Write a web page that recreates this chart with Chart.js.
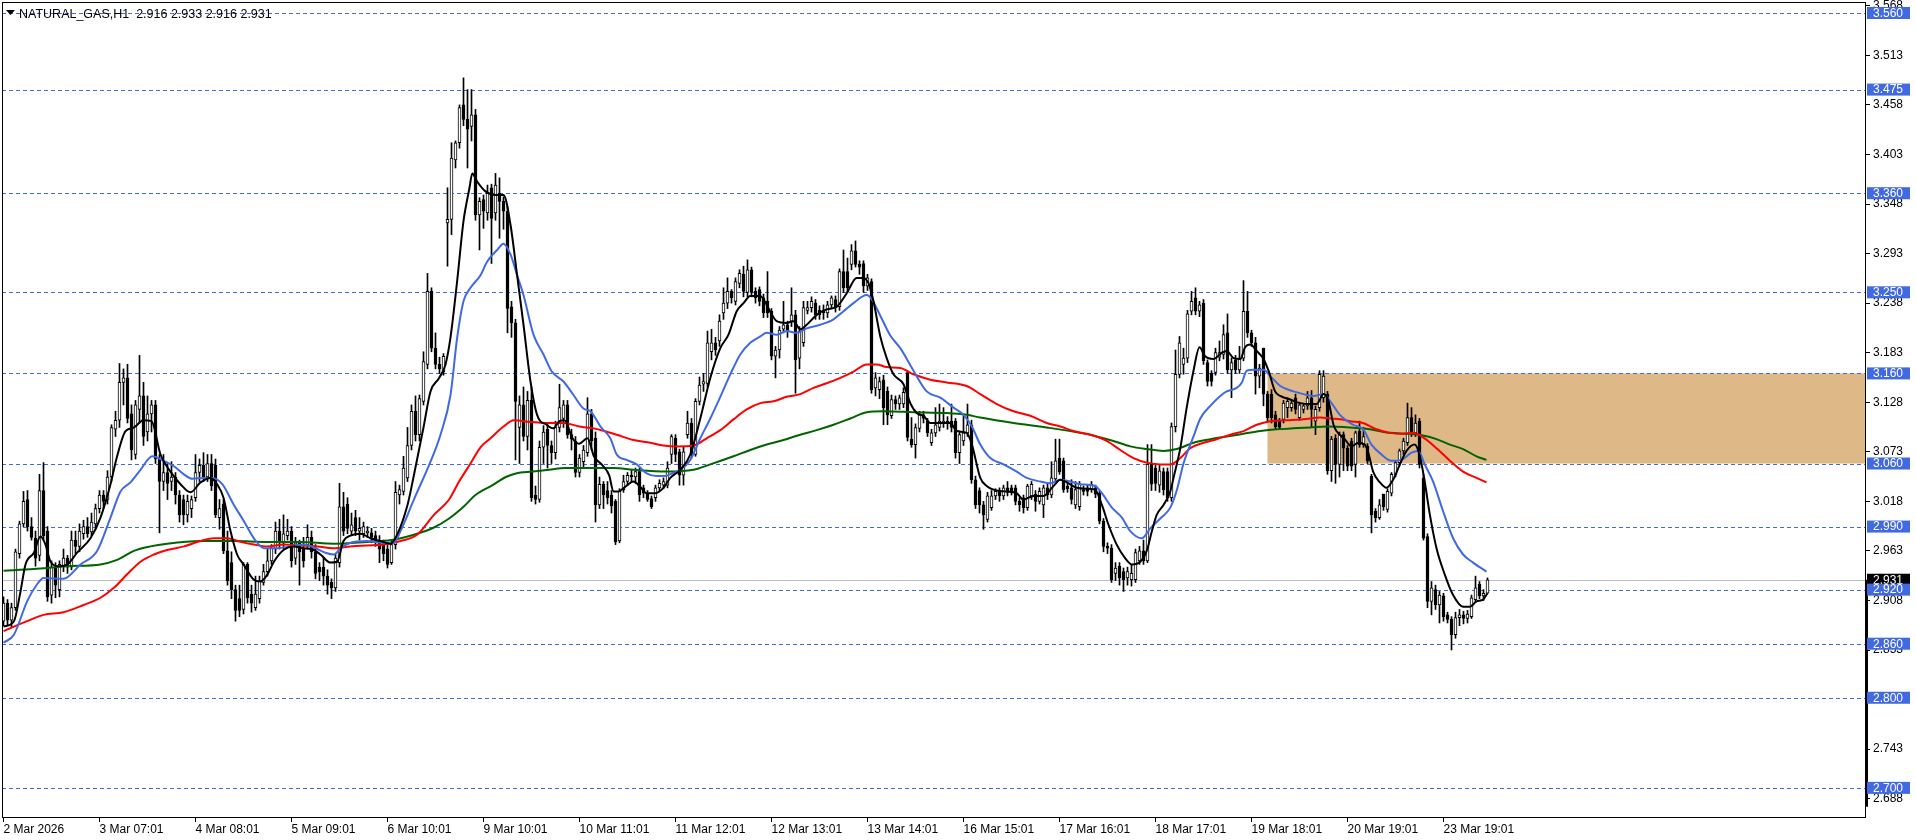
<!DOCTYPE html>
<html>
<head>
<meta charset="utf-8">
<title>NATURAL_GAS,H1</title>
<script src="https://cdn.jsdelivr.net/npm/chart.js@4.4.1/dist/chart.umd.min.js"></script>
<style>
  html, body { margin: 0; padding: 0; background: #fff; overflow: hidden; }
  canvas { display: block; }
</style>
</head>
<body>
<canvas id="priceChart" width="1916" height="840"></canvas>
<script>
// chart header and axis texts
var chartTitle = 'NATURAL_GAS,H1  2.916 2.933 2.916 2.931';
var timeLabels = ['2 Mar 2026', '3 Mar 07:01', '4 Mar 08:01', '5 Mar 09:01', '6 Mar 10:01', '9 Mar 10:01',
  '10 Mar 11:01', '11 Mar 12:01', '12 Mar 13:01', '13 Mar 14:01', '16 Mar 15:01', '17 Mar 16:01',
  '18 Mar 17:01', '19 Mar 18:01', '20 Mar 19:01', '23 Mar 19:01'];
var timeTickBars = [0, 24, 48, 72, 96, 120, 144, 168, 192, 216, 240, 264, 288, 312, 336, 360];
var priceTicks = [3.568, 3.513, 3.458, 3.403, 3.348, 3.293, 3.238, 3.183, 3.128, 3.073, 3.018,
  2.963, 2.908, 2.853, 2.798, 2.743, 2.688];

// horizontal levels, last price and the supply zone
var levels = [3.560, 3.475, 3.360, 3.250, 3.160, 3.060, 2.990, 2.920, 2.860, 2.800, 2.700];
var lastPrice = 2.931;
var zoneStartBar = 316;
var zoneTop = 3.160;
var zoneBottom = 3.060;

// hourly candles, bar 0 = 2 Mar 2026
var opens = [
  2.885,2.905,2.886,2.900,2.960,2.993,3.020,2.990,2.977,2.958,3.030,2.985,
  2.914,2.945,2.920,2.946,2.955,2.945,2.975,2.968,2.982,2.990,2.984,2.993,
  3.010,3.025,3.020,3.045,3.098,3.108,3.150,3.155,3.115,3.070,3.120,3.135,
  3.095,3.115,3.125,3.065,3.040,3.050,3.040,3.045,3.025,3.020,3.003,3.010,
  3.022,3.050,3.058,3.045,3.060,3.058,3.000,3.015,2.963,2.950,2.920,2.910,
  2.898,2.948,2.915,2.900,2.910,2.928,2.940,2.952,2.965,2.985,2.972,2.980,
  2.985,2.955,2.972,2.965,2.970,2.978,2.962,2.945,2.945,2.935,2.928,2.922,
  2.950,3.012,3.015,2.985,3.000,2.985,2.982,2.983,2.983,2.980,2.975,2.970,
  2.965,2.950,2.970,3.025,3.029,3.044,3.080,3.118,3.092,3.129,3.170,3.251,
  3.188,3.170,3.162,3.327,3.331,3.397,3.416,3.458,3.442,3.434,3.447,3.336,
  3.353,3.338,3.366,3.338,3.360,3.351,3.340,3.234,3.216,3.100,3.125,3.090,
  3.130,3.025,3.020,3.078,3.098,3.080,3.072,3.100,3.110,3.125,3.092,3.085,
  3.050,3.062,3.072,3.115,3.088,3.014,3.037,3.030,3.025,3.018,2.974,3.031,
  3.040,3.047,3.045,3.051,3.033,3.027,3.021,3.022,3.033,3.036,3.036,3.070,
  3.088,3.073,3.047,3.092,3.105,3.070,3.129,3.148,3.149,3.184,3.194,3.196,
  3.227,3.238,3.251,3.240,3.260,3.270,3.250,3.275,3.251,3.253,3.244,3.240,
  3.229,3.179,3.186,3.209,3.214,3.218,3.225,3.177,3.194,3.230,3.233,3.238,
  3.230,3.230,3.227,3.236,3.242,3.234,3.273,3.273,3.281,3.296,3.281,3.282,
  3.257,3.262,3.144,3.142,3.153,3.140,3.113,3.131,3.126,3.126,3.161,3.087,
  3.081,3.099,3.114,3.107,3.083,3.094,3.100,3.105,3.107,3.107,3.107,3.072,
  3.085,3.094,3.103,3.042,3.030,3.014,2.998,3.011,3.024,3.029,3.024,3.033,
  3.033,3.033,3.018,3.022,3.011,3.024,3.026,3.018,3.014,3.033,3.025,3.043,
  3.066,3.063,3.035,3.033,3.014,3.012,3.031,3.033,3.031,3.033,3.027,2.996,
  2.968,2.966,2.938,2.946,2.940,2.933,2.931,2.931,2.952,2.963,2.952,3.059,
  3.055,3.036,3.051,3.051,3.022,3.101,3.159,3.170,3.177,3.229,3.244,3.229,
  3.238,3.172,3.160,3.161,3.178,3.181,3.205,3.164,3.175,3.164,3.177,3.229,
  3.205,3.194,3.157,3.188,3.137,3.137,3.114,3.107,3.109,3.122,3.122,3.133,
  3.111,3.120,3.124,3.133,3.107,3.122,3.133,3.137,3.052,3.088,3.059,3.092,
  3.077,3.085,3.059,3.096,3.081,3.079,3.046,3.007,3.000,3.026,3.009,3.027,
  3.048,3.061,3.074,3.083,3.111,3.094,3.107,3.044,2.979,2.907,2.920,2.903,
  2.913,2.892,2.887,2.870,2.889,2.892,2.888,2.890,2.909,2.926,2.913,2.916
];
var highs = [
  2.912,2.909,2.905,2.965,2.996,3.029,3.030,3.000,2.985,3.048,3.061,2.990,
  2.952,2.950,2.952,2.965,2.958,2.985,2.985,2.993,2.997,3.000,3.005,3.015,
  3.030,3.030,3.052,3.103,3.118,3.171,3.165,3.170,3.125,3.130,3.180,3.150,
  3.135,3.130,3.130,3.070,3.070,3.060,3.062,3.050,3.030,3.025,3.025,3.024,
  3.070,3.065,3.072,3.070,3.070,3.065,3.020,3.020,2.985,2.962,2.925,2.925,
  2.950,2.950,2.925,2.935,2.935,2.948,2.965,2.970,2.995,2.998,3.003,2.998,
  2.990,2.978,2.975,2.978,2.992,2.985,2.970,2.950,2.955,2.942,2.932,2.960,
  3.038,3.028,3.022,3.005,3.008,3.000,2.995,2.990,2.988,2.985,2.980,2.975,
  2.970,2.975,3.040,3.036,3.068,3.100,3.125,3.135,3.136,3.184,3.271,3.255,
  3.205,3.178,3.182,3.366,3.416,3.418,3.458,3.488,3.475,3.475,3.453,3.355,
  3.358,3.369,3.370,3.382,3.377,3.356,3.345,3.240,3.220,3.135,3.145,3.140,
  3.145,3.035,3.085,3.102,3.105,3.085,3.107,3.148,3.130,3.130,3.098,3.090,
  3.070,3.080,3.133,3.120,3.095,3.045,3.040,3.040,3.030,3.020,3.032,3.047,
  3.050,3.053,3.055,3.055,3.036,3.030,3.024,3.036,3.042,3.044,3.062,3.092,
  3.092,3.076,3.078,3.118,3.110,3.132,3.156,3.160,3.207,3.209,3.200,3.225,
  3.255,3.266,3.253,3.266,3.275,3.279,3.286,3.278,3.255,3.256,3.248,3.273,
  3.232,3.190,3.212,3.240,3.218,3.255,3.230,3.212,3.240,3.240,3.245,3.242,
  3.235,3.236,3.240,3.246,3.246,3.276,3.297,3.288,3.303,3.307,3.285,3.285,
  3.270,3.265,3.161,3.156,3.158,3.145,3.136,3.135,3.136,3.144,3.163,3.111,
  3.104,3.118,3.118,3.110,3.098,3.122,3.126,3.122,3.112,3.126,3.110,3.096,
  3.115,3.126,3.108,3.046,3.033,3.018,3.028,3.030,3.032,3.033,3.036,3.040,
  3.036,3.036,3.022,3.025,3.037,3.040,3.030,3.033,3.036,3.037,3.062,3.087,
  3.087,3.066,3.040,3.042,3.040,3.040,3.035,3.036,3.040,3.036,3.030,2.999,
  2.972,2.970,2.950,2.950,2.944,2.945,2.948,2.965,2.968,2.975,3.081,3.081,
  3.060,3.058,3.055,3.055,3.105,3.186,3.201,3.188,3.230,3.251,3.255,3.240,
  3.242,3.175,3.163,3.188,3.196,3.214,3.226,3.177,3.180,3.190,3.263,3.251,
  3.208,3.200,3.170,3.188,3.140,3.142,3.118,3.110,3.130,3.133,3.130,3.137,
  3.128,3.127,3.140,3.141,3.124,3.163,3.163,3.140,3.090,3.092,3.095,3.095,
  3.080,3.088,3.096,3.107,3.100,3.082,3.048,3.010,3.020,3.026,3.032,3.050,
  3.063,3.076,3.088,3.127,3.122,3.114,3.110,3.048,2.982,2.929,2.925,2.918,
  2.916,2.895,2.890,2.895,2.898,2.896,2.897,2.914,2.935,2.929,2.920,2.933
];
var lows = [
  2.880,2.880,2.878,2.897,2.955,2.990,2.985,2.975,2.946,2.952,2.975,2.907,
  2.905,2.911,2.912,2.940,2.938,2.942,2.960,2.962,2.976,2.978,2.980,2.988,
  3.005,3.010,3.015,3.040,3.090,3.100,3.125,3.105,3.064,3.065,3.105,3.080,
  3.085,3.095,3.060,2.983,3.030,3.020,3.030,3.015,2.995,2.992,2.995,3.000,
  3.018,3.040,3.040,3.040,3.030,3.000,2.987,2.960,2.925,2.910,2.885,2.890,
  2.893,2.905,2.895,2.897,2.905,2.925,2.935,2.948,2.960,2.965,2.965,2.975,
  2.945,2.948,2.925,2.945,2.965,2.955,2.932,2.930,2.925,2.915,2.910,2.918,
  2.945,2.980,2.982,2.980,2.980,2.975,2.978,2.978,2.972,2.968,2.950,2.952,
  2.944,2.948,2.965,3.015,3.025,3.040,3.075,3.085,3.085,3.125,3.165,3.184,
  3.165,3.160,3.158,3.279,3.314,3.388,3.410,3.435,3.388,3.418,3.330,3.297,
  3.321,3.330,3.282,3.330,3.310,3.320,3.205,3.200,3.064,3.060,3.085,3.075,
  3.018,3.015,3.017,3.060,3.055,3.060,3.065,3.095,3.100,3.088,3.075,3.045,
  3.045,3.055,3.068,3.075,2.995,3.010,3.010,3.015,3.005,2.970,2.972,3.028,
  3.036,3.040,3.038,3.018,3.022,3.018,3.010,3.018,3.030,3.032,3.033,3.060,
  3.062,3.036,3.036,3.088,3.066,3.068,3.125,3.140,3.145,3.175,3.180,3.190,
  3.220,3.232,3.238,3.236,3.255,3.245,3.245,3.245,3.238,3.235,3.222,3.222,
  3.175,3.155,3.177,3.205,3.200,3.212,3.138,3.165,3.190,3.226,3.228,3.220,
  3.220,3.220,3.222,3.232,3.228,3.230,3.250,3.250,3.275,3.278,3.270,3.250,
  3.252,3.138,3.135,3.132,3.103,3.103,3.110,3.120,3.120,3.122,3.085,3.078,
  3.066,3.095,3.105,3.090,3.080,3.090,3.096,3.100,3.098,3.095,3.066,3.060,
  3.080,3.090,3.038,3.010,3.005,2.987,2.995,3.008,3.020,3.018,3.020,3.024,
  3.025,3.014,3.007,3.005,3.008,3.020,3.007,3.015,3.000,3.020,3.022,3.040,
  3.048,3.028,3.028,3.015,3.010,3.008,3.025,3.024,3.028,3.022,2.993,2.962,
  2.960,2.928,2.930,2.925,2.918,2.925,2.924,2.928,2.948,2.948,2.950,3.030,
  3.030,3.028,3.025,3.018,3.018,3.095,3.155,3.159,3.172,3.225,3.225,3.223,
  3.170,3.146,3.146,3.158,3.174,3.176,3.160,3.133,3.160,3.160,3.174,3.200,
  3.190,3.137,3.144,3.124,3.106,3.105,3.098,3.098,3.105,3.111,3.118,3.115,
  3.108,3.116,3.120,3.100,3.092,3.118,3.128,3.048,3.040,3.038,3.045,3.052,
  3.052,3.052,3.045,3.078,3.078,3.060,2.983,2.995,2.998,3.008,3.006,3.024,
  3.045,3.058,3.070,3.080,3.090,3.090,3.055,2.975,2.900,2.892,2.898,2.883,
  2.885,2.883,2.853,2.866,2.880,2.882,2.883,2.888,2.906,2.910,2.908,2.916
];
var closes = [
  2.905,2.886,2.900,2.962,2.993,3.018,2.990,2.978,2.955,3.030,2.980,2.912,
  2.945,2.925,2.948,2.955,2.945,2.975,2.968,2.985,2.990,2.982,2.995,3.010,
  3.025,3.018,3.045,3.100,3.108,3.150,3.155,3.110,3.075,3.125,3.135,3.090,
  3.115,3.125,3.065,3.040,3.050,3.038,3.045,3.025,3.003,3.003,3.018,3.020,
  3.050,3.058,3.045,3.060,3.035,3.003,3.010,2.963,2.930,2.920,2.897,2.897,
  2.948,2.911,2.905,2.915,2.930,2.940,2.952,2.966,2.985,2.972,2.982,2.985,
  2.952,2.972,2.962,2.952,2.978,2.962,2.938,2.940,2.935,2.925,2.922,2.955,
  3.012,2.985,2.988,2.992,2.985,2.988,2.990,2.985,2.978,2.976,2.965,2.960,
  2.948,2.970,3.028,3.031,3.055,3.080,3.118,3.092,3.132,3.173,3.251,3.188,
  3.170,3.165,3.179,3.331,3.399,3.416,3.455,3.442,3.431,3.447,3.336,3.351,
  3.340,3.360,3.332,3.369,3.351,3.340,3.232,3.216,3.129,3.125,3.090,3.130,
  3.022,3.020,3.078,3.095,3.080,3.072,3.100,3.122,3.125,3.092,3.087,3.050,
  3.066,3.075,3.115,3.085,3.014,3.037,3.025,3.022,3.013,2.973,3.029,3.040,
  3.047,3.045,3.051,3.025,3.027,3.020,3.012,3.033,3.038,3.040,3.055,3.090,
  3.070,3.047,3.073,3.105,3.070,3.129,3.147,3.151,3.194,3.194,3.186,3.218,
  3.238,3.251,3.244,3.262,3.271,3.251,3.275,3.250,3.244,3.240,3.227,3.227,
  3.179,3.186,3.208,3.214,3.207,3.225,3.175,3.207,3.233,3.233,3.240,3.225,
  3.225,3.227,3.236,3.244,3.233,3.273,3.255,3.255,3.296,3.281,3.278,3.257,
  3.266,3.142,3.155,3.151,3.122,3.114,3.131,3.126,3.133,3.139,3.089,3.081,
  3.100,3.114,3.110,3.094,3.094,3.103,3.107,3.107,3.105,3.100,3.072,3.092,
  3.094,3.103,3.042,3.014,3.014,3.003,3.024,3.024,3.029,3.024,3.033,3.028,
  3.029,3.018,3.014,3.011,3.035,3.037,3.018,3.029,3.033,3.025,3.044,3.063,
  3.051,3.031,3.032,3.020,3.031,3.037,3.029,3.029,3.037,3.026,2.996,2.968,
  2.966,2.931,2.944,2.933,2.931,2.940,2.938,2.961,2.963,2.952,3.059,3.037,
  3.038,3.052,3.031,3.022,3.101,3.159,3.194,3.177,3.226,3.240,3.229,3.236,
  3.174,3.151,3.151,3.183,3.183,3.203,3.164,3.172,3.164,3.177,3.229,3.205,
  3.194,3.157,3.166,3.137,3.111,3.111,3.101,3.100,3.127,3.129,3.127,3.120,
  3.125,3.124,3.133,3.120,3.120,3.159,3.157,3.052,3.087,3.059,3.092,3.077,
  3.057,3.057,3.094,3.081,3.090,3.063,3.003,3.000,3.014,3.012,3.029,3.048,
  3.061,3.074,3.085,3.111,3.094,3.105,3.059,2.977,2.907,2.922,2.903,2.914,
  2.890,2.887,2.870,2.889,2.892,2.888,2.893,2.911,2.922,2.913,2.916,2.931
];

// moving averages as [bar, price]
var maFast = [[0,2.879],[2.6,2.885],[4.25,2.918],[5.5,2.948],[7.6,2.961],[9.25,2.979],[10.5,2.970],[11.75,2.951],
  [14,2.946],[16,2.948],[18.4,2.961],[21.75,2.977],[24.25,3.000],[26.75,3.037],[28.4,3.068],[30.5,3.096],[32.6,3.100],
  [35,3.108],[37,3.107],[39.25,3.070],[41.75,3.051],[44.25,3.037],[46.75,3.028],[49.25,3.039],[51.75,3.044],[53.4,3.037],
  [55,3.022],[56.75,2.985],[58.4,2.959],[60,2.948],[62.6,2.931],[64.25,2.929],[66,2.937],[67.6,2.951],[70,2.964],
  [72.6,2.968],[75,2.966],[77.6,2.964],[79.25,2.959],[81.75,2.950],[83.4,2.951],[85,2.974],[86.75,2.980],[89.25,2.982],
  [91.75,2.977],[94.25,2.974],[96.75,2.971],[98.4,2.981],[101,3.014],[102.6,3.047],[105,3.100],[106.75,3.140],
  [108.9,3.155],[110.5,3.170],[111.75,3.200],[113.4,3.262],[115,3.329],[116.5,3.366],[117.2,3.382],[118.4,3.373],
  [120.5,3.362],[123,3.358],[125,3.358],[126.75,3.325],[128.4,3.269],[130,3.214],[131.75,3.151],[133.4,3.114],
  [135.75,3.103],[137.4,3.099],[139,3.107],[140.25,3.108],[142.25,3.088],[143.9,3.082],[146,3.088],[147.6,3.068],
  [149.75,3.058],[151.4,3.047],[152.5,3.029],[153.75,3.029],[155.4,3.034],[157.5,3.040],[159.2,3.034],[160.8,3.027],
  [162.9,3.027],[165,3.033],[166.7,3.044],[169.2,3.053],[171.7,3.070],[174.2,3.110],[176.7,3.155],[179.2,3.188],
  [181.25,3.203],[183.3,3.229],[185,3.238],[186.7,3.246],[189.2,3.246],[190.8,3.236],[192.1,3.225],[193.3,3.218],
  [195.8,3.216],[197.5,3.218],[199.2,3.209],[200.8,3.214],[203.3,3.225],[205.8,3.231],[208.3,3.234],[210.8,3.249],
  [213.3,3.266],[215,3.266],[216.25,3.260],[217.5,3.240],[219.2,3.201],[220.8,3.177],[222.5,3.159],[225,3.148],
  [226.7,3.127],[228.3,3.116],[230,3.113],[231.7,3.105],[234.2,3.105],[236.7,3.105],[238.3,3.096],[240.8,3.094],
  [242.1,3.081],[244.2,3.044],[245.8,3.035],[248.3,3.030],[250.8,3.029],[253.3,3.027],[255,3.020],[257.5,3.024],
  [260,3.024],[262.5,3.035],[264.2,3.042],[265.8,3.039],[268.3,3.033],[270.8,3.032],[272.9,3.031],[274.6,3.014],
  [276.25,2.992],[278.3,2.970],[280.4,2.955],[282.1,2.948],[284.2,2.951],[285.8,2.963],[287.1,2.985],[288.3,3.003],
  [290,3.014],[291.7,3.029],[292.5,3.044],[294.2,3.077],[295.8,3.122],[297.5,3.163],[299,3.189],[300.4,3.179],
  [302.5,3.176],[304.6,3.183],[305.8,3.185],[307.5,3.177],[309.2,3.176],[310.4,3.189],[311.7,3.192],[313.3,3.185],
  [315,3.176],[316.25,3.163],[317.9,3.140],[319.2,3.135],[321.7,3.131],[324.2,3.127],[326.7,3.126],[328.3,3.126],
  [330,3.137],[331.25,3.129],[332.5,3.103],[333.25,3.096],[335.3,3.087],[337,3.079],[338.7,3.083],[340.3,3.081],
  [341.2,3.072],[342.4,3.051],[344.1,3.039],[345.75,3.033],[347.4,3.042],[349.1,3.059],[350.75,3.074],[352.8,3.081],
  [354.1,3.068],[355.3,3.040],[356.6,3.003],[358.25,2.966],[360.3,2.937],[362.4,2.914],[364.9,2.901],[366.6,2.901],
  [368.25,2.907],[369.9,2.909],[371,2.916]];
var maMid = [[0,2.861],[2.6,2.870],[5.9,2.907],[8.4,2.926],[10,2.933],[15,2.932],[19.25,2.948],[23.4,2.963],
  [26.75,3.000],[29.25,3.029],[31.75,3.039],[34.25,3.053],[37.2,3.068],[40.1,3.063],[42.6,3.057],[45.1,3.048],
  [47.2,3.043],[50.1,3.044],[52.2,3.044],[54.7,3.037],[57.6,3.014],[60.1,2.996],[62.6,2.977],[65.1,2.966],[68.4,2.966],
  [71.75,2.968],[75.1,2.970],[78,2.966],[80.5,2.961],[82.6,2.959],[84.25,2.966],[86.75,2.972],[90.9,2.974],
  [95.1,2.972],[97.6,2.972],[99.25,2.985],[102.6,3.020],[106.75,3.062],[109.25,3.092],[111.75,3.136],[113.4,3.199],
  [115,3.240],[116.75,3.255],[119.25,3.269],[120.9,3.284],[123.4,3.297],[125,3.304],[126.75,3.292],[128.4,3.269],
  [130,3.247],[132.5,3.203],[135,3.181],[137.1,3.162],[140,3.151],[142.5,3.136],[145,3.121],[146.75,3.118],
  [149.25,3.101],[151.7,3.088],[153.3,3.070],[155.8,3.064],[158.3,3.059],[160.8,3.049],[163.3,3.046],[165.4,3.046],
  [167.1,3.049],[169.2,3.053],[171.7,3.064],[174.2,3.088],[176.7,3.110],[179.2,3.134],[181.7,3.159],[184.2,3.181],
  [186.7,3.194],[189.2,3.201],[190.8,3.205],[193.3,3.203],[195.8,3.207],[198.3,3.205],[200.8,3.210],[204.2,3.214],
  [207.5,3.220],[210,3.229],[212.5,3.238],[215.8,3.247],[217.1,3.242],[219.2,3.224],[221.7,3.202],[224.2,3.188],
  [227.5,3.163],[230.8,3.140],[234.2,3.133],[237.5,3.122],[240,3.114],[242.1,3.101],[244.2,3.081],[246.7,3.066],
  [250,3.059],[253.3,3.051],[255.8,3.044],[259.2,3.040],[261.7,3.038],[264.2,3.042],[266.7,3.040],[269.2,3.037],
  [272.9,3.035],[274.6,3.027],[277.1,3.011],[279.6,3.000],[281.7,2.985],[284.6,2.977],[286.7,2.988],[289.2,2.999],
  [291.7,3.011],[293.3,3.030],[295,3.060],[297.5,3.090],[299.2,3.110],[301.7,3.124],[304.2,3.135],[305.8,3.140],
  [308.3,3.144],[309.6,3.150],[310.8,3.163],[312.5,3.164],[315,3.164],[316.7,3.157],[319.2,3.146],[322.5,3.140],
  [325,3.137],[327.5,3.135],[330,3.137],[331.7,3.129],[334.1,3.114],[337.4,3.103],[339.9,3.098],[342,3.081],
  [344.5,3.070],[347,3.063],[349.5,3.064],[352,3.072],[353.7,3.074],[355.3,3.059],[357.4,3.040],[359.9,3.007],
  [362.4,2.977],[364.9,2.959],[367.4,2.950],[370.75,2.940]];
var maSlow = [[0,2.874],[2.6,2.879],[5.9,2.885],[10,2.892],[15,2.895],[20,2.903],[24.25,2.911],[27.6,2.922],
  [30.9,2.937],[34.25,2.951],[37.6,2.959],[40.9,2.964],[45.1,2.968],[49.25,2.974],[52.6,2.977],[55.9,2.977],
  [59.25,2.973],[62.6,2.970],[65.9,2.968],[70.1,2.970],[74.25,2.969],[78.4,2.968],[82.6,2.966],[86.75,2.968],
  [90.9,2.969],[95.1,2.970],[99.25,2.974],[103.4,2.981],[107.6,3.003],[111.4,3.020],[113.9,3.040],[116.75,3.060],
  [119.25,3.078],[121.75,3.088],[125,3.101],[127.6,3.108],[131.75,3.106],[135.75,3.105],[140,3.105],[144,3.101],
  [147.6,3.099],[151,3.095],[153.3,3.092],[157.5,3.086],[161.7,3.083],[165,3.080],[168.3,3.079],[172.5,3.080],
  [175.8,3.088],[179.2,3.097],[182.5,3.109],[185.8,3.120],[189.2,3.127],[192.5,3.129],[195.8,3.134],[199.2,3.137],
  [202.5,3.144],[205.8,3.149],[209.2,3.155],[212.5,3.162],[215.8,3.170],[218.3,3.170],[220.8,3.167],[224.2,3.166],
  [227.5,3.159],[231.7,3.153],[235.8,3.150],[240.8,3.146],[244.2,3.137],[248.3,3.126],[252.5,3.118],[256.7,3.113],
  [260.8,3.105],[264.2,3.101],[267.5,3.096],[272.5,3.091],[275.8,3.085],[279.2,3.075],[282.5,3.066],[285.8,3.061],
  [289.2,3.059],[291.7,3.059],[294.2,3.066],[296.7,3.077],[300,3.083],[303.3,3.087],[306.7,3.092],[310,3.096],
  [313.3,3.103],[316.7,3.107],[320.8,3.108],[325,3.109],[329.2,3.111],[331.7,3.110],[334.2,3.109],[336.6,3.107],
  [339.9,3.105],[343.25,3.098],[346.6,3.094],[349.9,3.093],[352.4,3.094],[354.9,3.089],[358.25,3.077],[361.6,3.063],
  [364.9,3.051],[368.25,3.044],[370.75,3.039]];
var maLong = [[0,2.941],[7.6,2.943],[15.9,2.946],[24.25,2.948],[28.4,2.953],[32.6,2.963],[36.75,2.968],[40.9,2.971],
  [49.25,2.974],[57.6,2.974],[65.9,2.973],[74.25,2.973],[82.6,2.971],[90.9,2.973],[97,2.975],[102.6,2.981],
  [107.6,2.989],[111.4,2.999],[115,3.012],[118,3.025],[122.25,3.036],[125.6,3.045],[128.1,3.049],[132.25,3.051],
  [136.4,3.053],[140.5,3.055],[144.75,3.055],[148.9,3.055],[152.6,3.055],[157.5,3.053],[165.8,3.051],[172.5,3.053],
  [176.7,3.059],[182.5,3.068],[186.7,3.075],[190.8,3.081],[195,3.086],[199.2,3.092],[203.3,3.097],[207.5,3.103],
  [211.7,3.110],[215.8,3.117],[220,3.118],[227.5,3.117],[235.8,3.116],[240.8,3.114],[244.2,3.111],[252.5,3.105],
  [260.8,3.100],[269.2,3.094],[273.3,3.090],[277.5,3.085],[281.7,3.079],[285.8,3.076],[290,3.074],[293.3,3.076],
  [297.5,3.083],[301.7,3.087],[305.8,3.090],[310,3.093],[314.2,3.096],[318.3,3.098],[322.5,3.099],[326.7,3.100],
  [330.8,3.101],[336.6,3.100],[341.6,3.098],[346.6,3.094],[351.6,3.093],[354.9,3.091],[358.25,3.087],[361.6,3.081],
  [364.9,3.076],[368.25,3.068],[370.75,3.064]];

var FONT = 'Liberation Sans, Arial, sans-serif';
var LEVEL_BLUE = '#4169E1';

function toPoints(pairs) {
  return pairs.map(function (p) { return { x: p[0], y: p[1] }; });
}

var wickData = highs.map(function (h, i) { return { x: i, y: [lows[i], h] }; });
var bodyData = opens.map(function (o, i) { return { x: i, y: [o, closes[i]] }; });
var bodyFill = opens.map(function (o, i) { return closes[i] >= o ? '#ffffff' : '#000000'; });

// levels, zone, frame and price labels
var mt4Overlay = {
  id: 'mt4Overlay',
  beforeDatasetsDraw: function (chart) {
    var ctx = chart.ctx, a = chart.chartArea, xs = chart.scales.x, ys = chart.scales.y;
    ctx.save();
    ctx.beginPath();
    ctx.rect(a.left, a.top, a.right - a.left, a.bottom - a.top);
    ctx.clip();

    var zx = xs.getPixelForValue(zoneStartBar);
    var zt = ys.getPixelForValue(zoneTop);
    var zb = ys.getPixelForValue(zoneBottom);
    ctx.fillStyle = '#DEB887';
    ctx.fillRect(zx, zt, a.right - zx, zb - zt);

    ctx.lineWidth = 1;
    var ly = Math.round(ys.getPixelForValue(lastPrice)) + 0.5;
    ctx.strokeStyle = '#C0C0C0';
    ctx.beginPath();
    ctx.moveTo(a.left, ly);
    ctx.lineTo(a.right, ly);
    ctx.stroke();

    ctx.strokeStyle = LEVEL_BLUE;
    ctx.setLineDash([4, 3]);
    levels.forEach(function (lv) {
      var y = Math.round(ys.getPixelForValue(lv)) + 0.5;
      ctx.beginPath();
      ctx.moveTo(a.left, y);
      ctx.lineTo(a.right, y);
      ctx.stroke();
    });
    ctx.restore();
  },
  afterDraw: function (chart) {
    var ctx = chart.ctx, a = chart.chartArea, ys = chart.scales.y;
    ctx.save();

    // frame
    ctx.strokeStyle = '#000';
    ctx.lineWidth = 1;
    ctx.strokeRect(a.left + 0.5, a.top + 0.5, a.right - a.left - 1, a.bottom - a.top);

    // title
    ctx.fillStyle = '#000';
    ctx.beginPath();
    ctx.moveTo(6, 10);
    ctx.lineTo(15, 10);
    ctx.lineTo(10.5, 15);
    ctx.closePath();
    ctx.fill();
    ctx.font = '12.5px ' + FONT;
    ctx.textBaseline = 'alphabetic';
    ctx.textAlign = 'left';
    ctx.fillText(chartTitle, 19, 18);

    // price marker bar on the axis
    var ty = ys.getPixelForValue(lastPrice);
    ctx.fillRect(a.right - 1, ty, 3, ys.getPixelForValue(2.679) - ty);

    // last price box
    ctx.font = '12px ' + FONT;
    ctx.textBaseline = 'middle';
    ctx.fillStyle = '#000';
    ctx.fillRect(a.right + 1, ty - 6, 43, 12);
    ctx.fillStyle = '#fff';
    ctx.fillText(lastPrice.toFixed(3), a.right + 7, ty + 0.5);

    // level boxes
    levels.forEach(function (lv) {
      var y = ys.getPixelForValue(lv);
      ctx.fillStyle = LEVEL_BLUE;
      ctx.fillRect(a.right + 1, y - 6, 43, 12);
      ctx.fillStyle = '#fff';
      ctx.fillText(lv.toFixed(3), a.right + 7, y + 0.5);
    });
    ctx.restore();
  }
};

var ctx = document.getElementById('priceChart').getContext('2d');
var priceChart = new Chart(ctx, {
  type: 'bar',
  data: {
    datasets: [
      { type: 'line', label: 'MA fast', data: toPoints(maFast), borderColor: '#000000', borderWidth: 2,
        pointRadius: 0, cubicInterpolationMode: 'monotone', order: 1 },
      { type: 'line', label: 'MA mid', data: toPoints(maMid), borderColor: '#4169E1', borderWidth: 2,
        pointRadius: 0, cubicInterpolationMode: 'monotone', order: 2 },
      { type: 'line', label: 'MA slow', data: toPoints(maSlow), borderColor: '#FF0000', borderWidth: 2,
        pointRadius: 0, cubicInterpolationMode: 'monotone', order: 3 },
      { type: 'line', label: 'MA long', data: toPoints(maLong), borderColor: '#006400', borderWidth: 2,
        pointRadius: 0, cubicInterpolationMode: 'monotone', order: 4 },
      { label: 'bodies', data: bodyData, backgroundColor: bodyFill, borderColor: '#000000', borderWidth: 1,
        borderSkipped: false, barThickness: 3, minBarLength: 1, grouped: false, order: 5 },
      { label: 'wicks', data: wickData, backgroundColor: '#000000', borderWidth: 0,
        barThickness: 1, grouped: false, order: 6 }
    ]
  },
  options: {
    responsive: false,
    animation: false,
    events: [],
    layout: { padding: { left: 2, top: 2, right: 0, bottom: 0 } },
    plugins: { legend: { display: false }, tooltip: { enabled: false } },
    scales: {
      x: {
        type: 'linear',
        min: -0.375,
        max: 465.625,
        offset: false,
        border: { display: false },
        grid: { display: true, drawOnChartArea: false, tickLength: 5, color: '#000', offset: false },
        ticks: {
          autoSkip: false, maxRotation: 0, align: 'start', padding: 0, color: '#000',
          font: { family: FONT, size: 12 },
          callback: function (v, i) { return timeLabels[i]; }
        },
        afterBuildTicks: function (s) { s.ticks = timeTickBars.map(function (v) { return { value: v }; }); },
        afterFit: function (s) { s.height = 23; s.paddingLeft = 0; s.paddingRight = 0; }
      },
      y: {
        type: 'linear',
        position: 'right',
        min: 2.66766,
        max: 3.57221,
        border: { display: false },
        grid: { display: true, drawOnChartArea: false, tickLength: 4, color: '#000' },
        ticks: {
          padding: 3, color: '#000', font: { family: FONT, size: 12 },
          callback: function (v) { return v.toFixed(3); }
        },
        afterBuildTicks: function (s) { s.ticks = priceTicks.map(function (v) { return { value: v }; }); },
        afterFit: function (s) { s.width = 50; s.paddingTop = 0; s.paddingBottom = 0; }
      }
    }
  },
  plugins: [mt4Overlay]
});
</script>
</body>
</html>
